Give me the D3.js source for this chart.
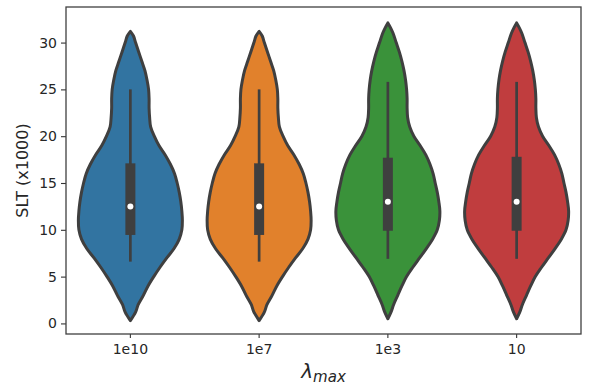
<!DOCTYPE html>
<html><head><meta charset="utf-8">
<script src="https://cdn.jsdelivr.net/npm/d3@7"></script>
<style>body{margin:0;background:#fff}svg{display:block}text{font-family:"DejaVu Sans",sans-serif;fill:#262626}</style>
</head><body><svg id="c" width="602" height="388"></svg>
<script>
const categories = ["1e10", "1e7", "1e3", "10"];
const colors = ["#3274a1", "#e1812c", "#3a923a", "#c03d3e"];
const yTicks = [0, 5, 10, 15, 20, 25, 30];

// KDE profiles (value in thousands, relative density)
const levels_1e10 = [0.3,1.2,2,3,4,5,6,7,8,9,10,11,12,13,14,15,16,17,18,19,20,21,22,23,24,25,26,27,28,29,30,30.7,31.2];
const density_1e10 = [0,.10,.15,.25,.34,.45,.57,.70,.84,.94,.99,1.0,.99,.97,.94,.90,.85,.77,.67,.55,.46,.39,.37,.36,.36,.35,.32,.28,.22,.16,.10,.06,0];
const levels_1e7 = [0.3,1.2,2,3,4,5,6,7,8,9,10,11,12,13,14,15,16,17,18,19,20,21,22,23,24,25,26,27,28,29,30,30.7,31.2];
const density_1e7 = [0,.10,.15,.25,.34,.45,.57,.70,.84,.94,.99,1.0,.99,.97,.94,.90,.85,.77,.67,.55,.46,.39,.37,.36,.36,.35,.32,.28,.22,.16,.10,.06,0];
const levels_1e3 = [0.5,1.2,2,3,4,5,6,7,8,9,10,11,12,13,14,15,16,17,18,19,20,21,22,23,24,25,26,27,28,29,30,31,31.6,32.1];
const density_1e3 = [0,.06,.11,.19,.27,.36,.48,.61,.74,.86,.95,.99,1.0,.98,.95,.91,.87,.81,.73,.62,.50,.42,.38,.37,.37,.36,.34,.31,.27,.22,.16,.10,.05,0];
const levels_10 = [0.5,1.2,2,3,4,5,6,7,8,9,10,11,12,13,14,15,16,17,18,19,20,21,22,23,24,25,26,27,28,29,30,31,31.6,32.1];
const density_10 = [0,.06,.11,.19,.27,.36,.48,.61,.74,.86,.95,.99,1.0,.98,.95,.91,.87,.81,.73,.62,.50,.42,.38,.37,.37,.36,.34,.31,.27,.22,.16,.10,.05,0];

// box statistics (thousands)
const whiskerLow = [6.6, 6.6, 6.9, 6.9];
const q1 = [9.45, 9.45, 9.9, 9.9];
const median = [12.5, 12.5, 13.0, 13.0];
const q3 = [17.1, 17.1, 17.7, 17.8];
const whiskerHigh = [25.0, 25.0, 25.8, 25.8];

const levels = [levels_1e10, levels_1e7, levels_1e3, levels_10];
const densities = [density_1e10, density_1e7, density_1e3, density_10];

const svg = d3.select("#c");
const L = 66, R = 581, T = 7, B = 334;
const gray = "#3f3f3f";

const x = d3.scaleBand().domain(categories).range([L, R]).paddingInner(0).paddingOuter(0);
const y = d3.scaleLinear().domain([-1.13, 33.8]).range([B, T]);
const w = d3.scaleLinear().domain([0, 1]).range([0, x.bandwidth() * 0.4 + 0.5]);

const g = svg.append("g");
categories.forEach((c, i) => {
  const cx = x(c) + x.bandwidth() / 2;
  const pts = levels[i].map((v, j) => ({v, d: densities[i][j]}));
  const area = d3.area()
    .y(d => y(d.v))
    .x0(d => cx - w(d.d))
    .x1(d => cx + w(d.d))
    .curve(d3.curveCatmullRom);
  g.append("path").attr("d", area(pts))
    .attr("fill", colors[i]).attr("stroke", gray).attr("stroke-width", 3).attr("stroke-linejoin", "round");
  g.append("line").attr("x1", cx).attr("x2", cx).attr("y1", y(whiskerLow[i])).attr("y2", y(whiskerHigh[i]))
    .attr("stroke", gray).attr("stroke-width", 2.7);
  g.append("line").attr("x1", cx).attr("x2", cx).attr("y1", y(q1[i])).attr("y2", y(q3[i]))
    .attr("stroke", gray).attr("stroke-width", 10);
  g.append("circle").attr("cx", cx).attr("cy", y(median[i])).attr("r", 3).attr("fill", "#fff");
});

// axes
const yAxis = svg.append("g").attr("transform", `translate(${L},0)`)
  .call(d3.axisLeft(y).tickValues(yTicks).tickSize(5).tickPadding(4));
const xAxis = svg.append("g").attr("transform", `translate(0,${B})`)
  .call(d3.axisBottom(x).tickSize(4).tickPadding(6));
[yAxis, xAxis].forEach(a => {
  a.select(".domain").remove();
  a.selectAll(".tick line").attr("stroke", "#333").attr("stroke-width", 1.1);
  a.selectAll(".tick text").attr("font-size", 14).attr("fill", "#262626").attr("font-family", "DejaVu Sans");
});

svg.append("rect").attr("x", L).attr("y", T).attr("width", R - L).attr("height", B - T)
  .attr("fill", "none").attr("stroke", "#404040").attr("stroke-width", 1.3);

svg.append("text").attr("transform", `translate(22,${(T + B) / 2}) rotate(-90)`)
  .attr("text-anchor", "middle").attr("dy", "0.35em").attr("font-size", 16).text("SLT (x1000)");

const xl = svg.append("text").attr("x", (L + R) / 2).attr("y", 378).attr("text-anchor", "middle");
xl.append("tspan").attr("font-size", 20).attr("font-style", "italic").text("λ");
xl.append("tspan").attr("font-size", 15).attr("font-style", "italic").attr("dy", 4).text("max");
</script></body></html>
